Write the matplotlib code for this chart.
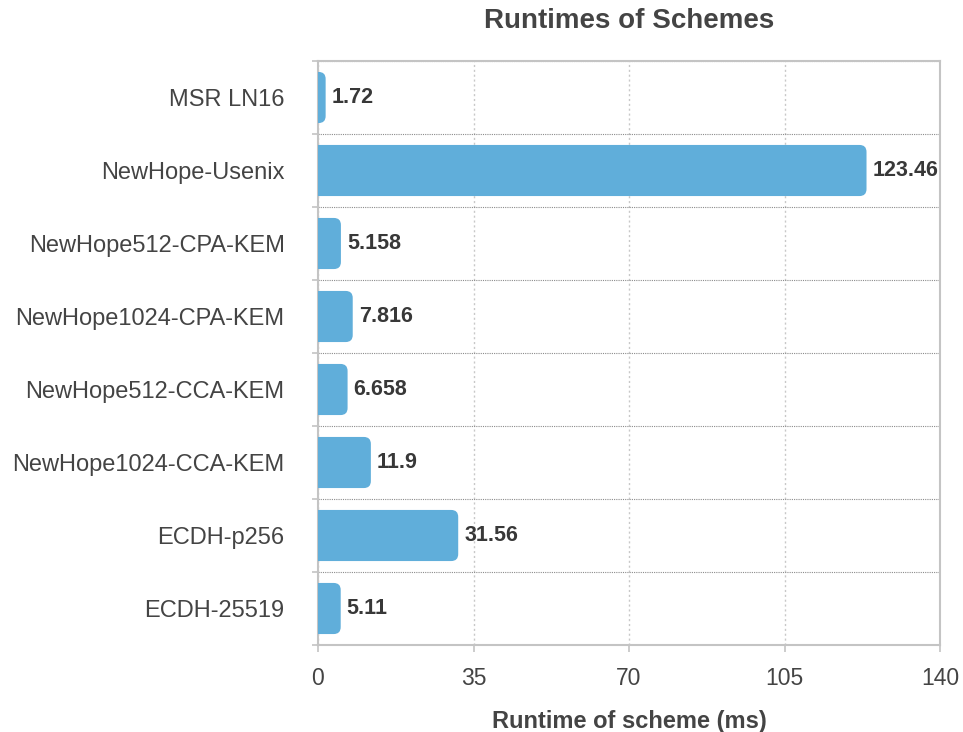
import numpy as np
import matplotlib
matplotlib.use("Agg")
import matplotlib.pyplot as plt
from matplotlib.patches import FancyBboxPatch
from matplotlib.ticker import FixedLocator

# ---------------------------------------------------------------
# Runtimes of key-exchange schemes (ms)
# ---------------------------------------------------------------
schemes = ["MSR LN16", "NewHope-Usenix", "NewHope512-CPA-KEM",
           "NewHope1024-CPA-KEM", "NewHope512-CCA-KEM",
           "NewHope1024-CCA-KEM", "ECDH-p256", "ECDH-25519"]
runtimes = [1.72, 123.46, 5.158, 7.816, 6.658, 11.9, 31.56, 5.11]
x_ticks = [0, 35, 70, 105, 140]

BAR   = "#60AEDA"
TEXT  = "#444444"
VALUE = "#383838"
SPINE = "#C4C4C4"

plt.rcParams["font.family"] = ["Liberation Sans", "DejaVu Sans"]

fig = plt.figure(figsize=(9.63, 7.32), dpi=100)
ax = fig.add_axes([318 / 963, 1 - 645 / 732, 622 / 963, 584 / 732])

y = np.arange(len(schemes))
bars = ax.barh(y, runtimes, height=0.7, color=BAR)

ax.set_xlim(0, 140)
ax.set_ylim(len(schemes) - 0.5, -0.5)

# swap plain bars for ones with a rounded right end;
# the left corners start below 0 and are clipped by the axes
bbox = ax.get_window_extent()
sx = bbox.width / 140
sy = bbox.height / len(schemes)
r = 7 / sx
for b in bars:
    x0, y0, w, h = b.get_x(), b.get_y(), b.get_width(), b.get_height()
    b.remove()
    patch = FancyBboxPatch((x0 - r, y0), w + r, h,
                           boxstyle=f"round,pad=0,rounding_size={r}",
                           mutation_aspect=sx / sy,
                           facecolor=BAR, edgecolor="none", zorder=3)
    ax.add_patch(patch)

for yi, v in zip(y, runtimes):
    ax.text(v + 6 / sx, yi, str(v), va="center", ha="left",
            fontsize=15.5, fontweight="bold", color=VALUE, zorder=4)

# ---------------------------------------------------------------
# Axes styling
# ---------------------------------------------------------------
ax.set_yticks(y)
ax.set_yticklabels(schemes)
ax.yaxis.set_minor_locator(FixedLocator(np.arange(-0.5, len(schemes), 1.0)))
ax.tick_params(axis="y", which="major", length=0, pad=24,
               labelsize=17, labelcolor=TEXT)
ax.tick_params(axis="y", which="minor", length=4, width=1.2, color=SPINE)

ax.set_xticks(x_ticks)
ax.tick_params(axis="x", which="major", length=5, width=1.2, color=SPINE,
               pad=11, labelsize=16.5, labelcolor=TEXT)

ax.grid(axis="x", which="major", color="#C8C8C8", linewidth=1.0,
        linestyle=(0, (1.5, 2)), zorder=0)
ax.grid(axis="y", which="minor", color="#8C8C8C", linewidth=0.8,
        linestyle=(0, (1, 1)), zorder=0)
ax.set_axisbelow(True)

for side in ("top", "bottom", "left", "right"):
    ax.spines[side].set_color(SPINE)
    ax.spines[side].set_linewidth(1.5)

ax.set_title("Runtimes of Schemes", fontsize=20, fontweight="bold",
             color=TEXT, pad=24)
ax.set_xlabel("Runtime of scheme (ms)", fontsize=17, fontweight="bold",
              color=TEXT, labelpad=14)

fig.savefig("out.png", dpi=100, facecolor="white")
